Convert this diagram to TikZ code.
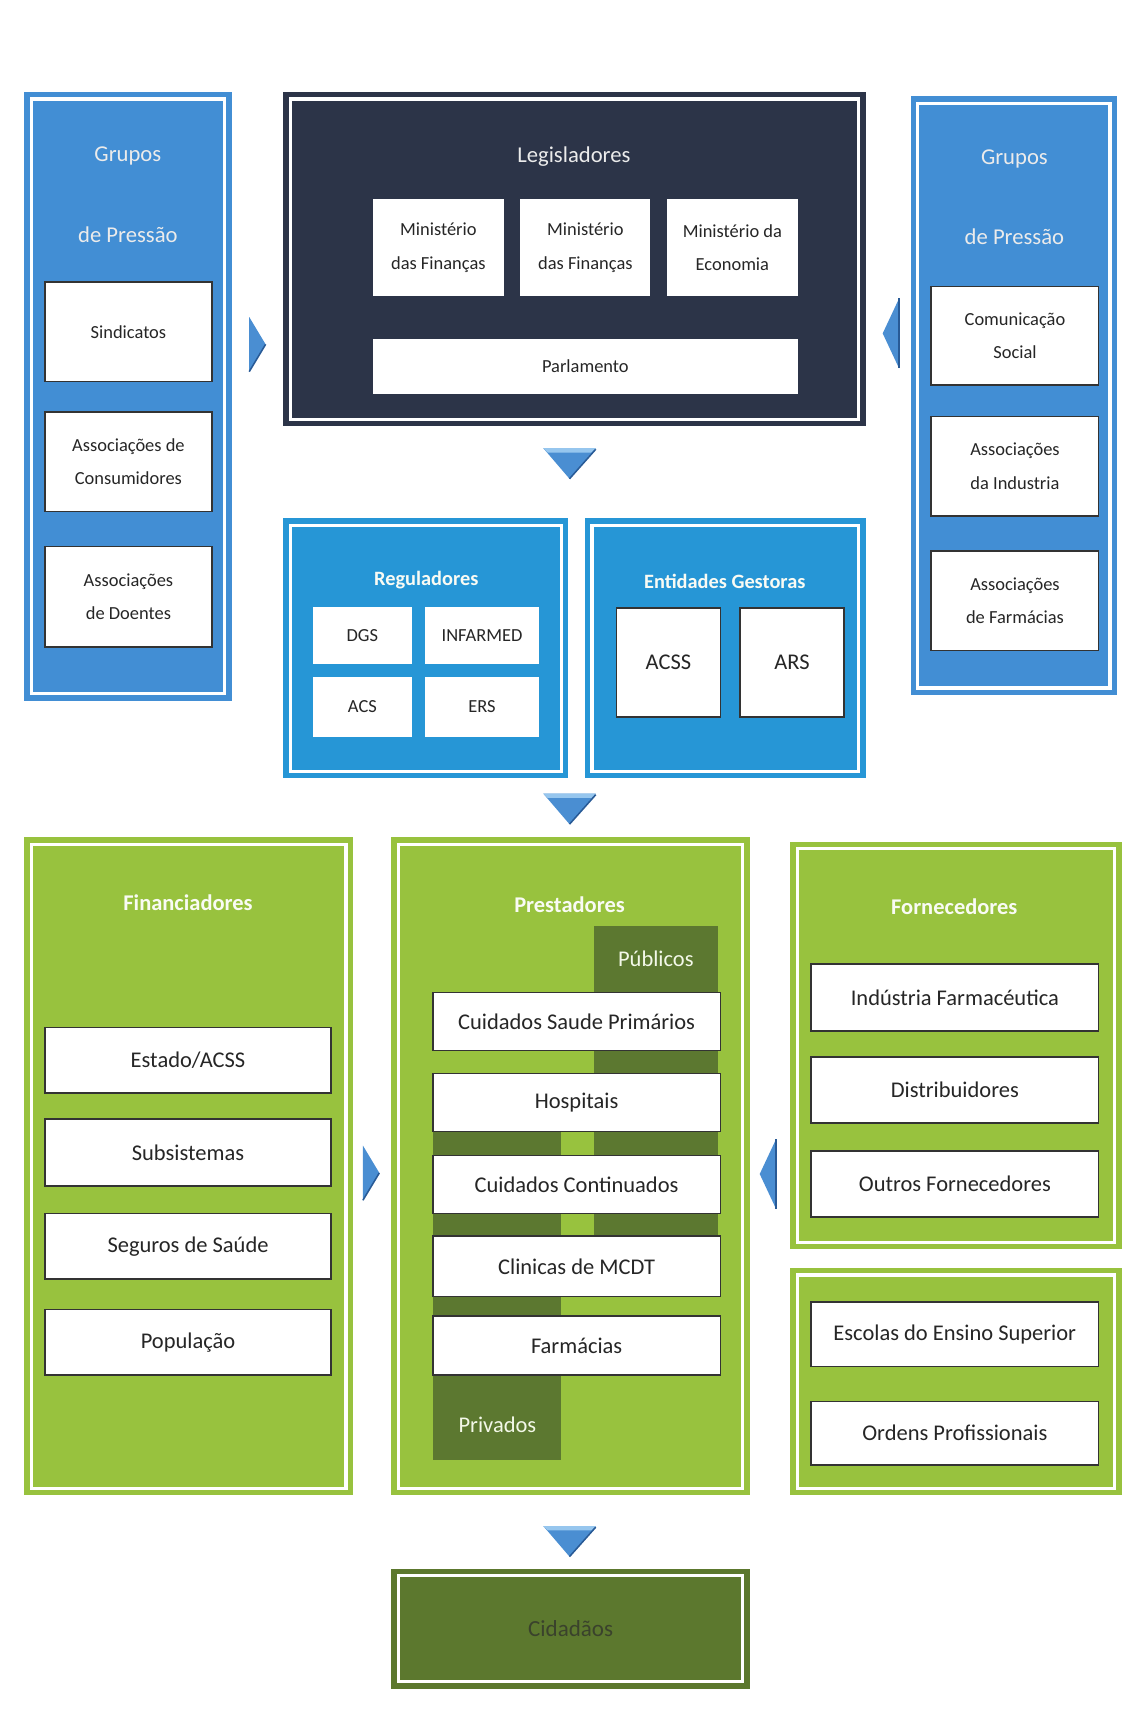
\documentclass[tikz,border=0pt]{standalone}
\usepackage{fontspec}
\setmainfont{Carlito}

\definecolor{grpblue}{RGB}{66,142,212}
\definecolor{regblue}{RGB}{38,150,214}
\definecolor{navy}{RGB}{44,52,72}
\definecolor{leaf}{RGB}{152,194,62}
\definecolor{moss}{RGB}{92,120,48}
\definecolor{citz}{RGB}{92,120,46}
\definecolor{citztxt}{RGB}{58,66,44}
\definecolor{tipblue}{RGB}{74,142,210}
\definecolor{tiplight}{RGB}{150,198,238}
\definecolor{tipdark}{RGB}{40,90,150}

\newcommand{\smallfnt}{\fontsize{9.6}{17.5}\selectfont}
\newcommand{\bigfnt}{\fontsize{11.7}{14}\selectfont}

\begin{document}
\begin{tikzpicture}[x=0.02cm, y=-0.02cm,
  sz/.style 2 args={minimum width=#1*0.02cm, minimum height=#2*0.02cm},
  gbox/.style={fill=#1, draw=white, line width=1.7pt, preaction={draw=#1, line width=7.4pt}, inner sep=0pt},
  ibox/.style={fill=white, draw=black!80, line width=0.9pt, inner sep=0pt, align=center, font=\smallfnt, text=black!85},
  iboxbig/.style={ibox, font=\bigfnt},
  ibare/.style={ibox, draw=none},
  hdr/.style={text=white!92!black, font=\fontsize{11.8}{14}\selectfont},
  hdrbold/.style={text=white!94!leaf, font=\bfseries\fontsize{11.7}{14}\selectfont},
  strip/.style={fill=moss, inner sep=0pt},
  dtip/.pic={
    \fill[tipblue] (-24,-14) -- (24,-14) -- (0,14) -- cycle;
    \fill[tiplight] (-24,-14) -- (24,-14) -- (20,-10) -- (-20,-10) -- cycle;
    \draw[tipdark, line width=0.8pt] (24,-13) -- (0,14);},
  rtip/.pic={
    \fill[tipblue] (-7.5,-25) -- (7.5,0) -- (-7.5,25) -- cycle;
    \draw[tipdark, line width=0.8pt] (7.5,0) -- (-7.5,25);},
  ltip/.pic={
    \fill[tipblue] (7.5,-32) -- (-7.5,0) -- (7.5,32) -- cycle;
    \draw[tipdark, line width=0.8pt] (7.5,-32) -- (7.5,32);}]
\useasboundingbox (0,0) rectangle (1042,1568);

% group frames
\node[gbox=grpblue, sz={177}{544}] (grpL) at (117,362.5) {};
\node[gbox=navy, sz={520}{293}] (leg) at (525.5,237) {};
\node[gbox=grpblue, sz={176}{535}] (grpR) at (927.5,362) {};
\node[gbox=regblue, sz={248}{225}] (reg) at (389.5,593) {};
\node[gbox=regblue, sz={244}{225}] (ent) at (663.5,593) {};
\node[gbox=leaf, sz={288}{589}] (fin) at (172.5,1067) {};
\node[gbox=leaf, sz={315}{589}] (prest) at (522,1067) {};
\node[gbox=leaf, sz={290}{360}] (forn) at (874.5,956.5) {};
\node[gbox=leaf, sz={290}{195}] (esc) at (874.5,1264) {};
\node[gbox=citz, sz={315}{97}, text=citztxt, font=\fontsize{12}{14}\selectfont] (cid) at (522,1490) {Cidadãos};

% titles
\node[hdr] (grpLa) at (117,143) {Grupos};
\node[hdr] (grpLb) at (117,215) {de Pressão};
\node[hdr] (grpRa) at (928,145) {Grupos};
\node[hdr] (grpRb) at (928,217) {de Pressão};
\node[hdr] (legT) at (525,143) {Legisladores};
\node[hdrbold, font=\bfseries\fontsize{10.6}{13}\selectfont] (regT) at (390,531) {Reguladores};
\node[hdrbold, font=\bfseries\fontsize{10.6}{13}\selectfont] (entT) at (663,532) {Entidades Gestoras};
\node[hdrbold] (finT) at (172,826) {Financiadores};
\node[hdrbold] (prestT) at (521,828) {Prestadores};
\node[hdrbold] (fornT) at (873,829) {Fornecedores};

% pressure groups
\node[ibox, sz={153}{91}] (sind) at (117.5,303.5) {Sindicatos};
\node[ibox, sz={153}{91}] (cons) at (117.5,422.5) {Associações de\\Consumidores};
\node[ibox, sz={153}{92}] (doen) at (117.5,546) {Associações\\de Doentes};
\node[ibox, sz={153}{90}] (comu) at (928.5,307) {Comunicação\\Social};
\node[ibox, sz={153}{91}] (indu) at (928.5,426.5) {Associações\\da Industria};
\node[ibox, sz={153}{91}] (farmA) at (928.5,549.5) {Associações\\de Farmácias};

% legislators
\node[ibare, sz={120}{89}] (minA) at (401,226.5) {Ministério\\das Finanças};
\node[ibare, sz={119}{89}] (minB) at (535.5,226.5) {Ministério\\das Finanças};
\node[ibare, sz={120}{89}] (minC) at (670,226.5) {Ministério da\\Economia};
\node[ibare, sz={389}{50}] (parl) at (535.5,335) {Parlamento};

% regulators and managing bodies
\node[ibare, sz={91}{52}] (dgs) at (331.5,581) {DGS};
\node[ibare, sz={104}{52}] (infa) at (441,581) {INFARMED};
\node[ibare, sz={91}{55}] (acs) at (331.5,646.5) {ACS};
\node[ibare, sz={104}{55}] (ers) at (441,646.5) {ERS};
\node[iboxbig, sz={95}{100}] (acss) at (611.5,606) {ACSS};
\node[iboxbig, sz={95}{100}] (ars) at (724.5,606) {ARS};

% funders
\node[iboxbig, sz={262}{60}] (esta) at (172,970) {Estado/ACSS};
\node[iboxbig, sz={262}{61}] (subs) at (172,1054.5) {Subsistemas};
\node[iboxbig, sz={262}{60}] (segu) at (172,1140) {Seguros de Saúde};
\node[iboxbig, sz={262}{60}] (popu) at (172,1228) {População};

% providers
\node[strip, sz={114}{303}] (pub) at (600,998.5) {};
\node[strip, sz={117}{326}] (priv) at (454.5,1173) {};
\node[text=white!88!leaf, font=\bigfnt] (pubT) at (600,877) {Públicos};
\node[text=white!88!leaf, font=\bigfnt] (privT) at (455,1303) {Privados};
\node[iboxbig, sz={263}{53}] (csp) at (527.5,934.5) {Cuidados Saude Primários};
\node[iboxbig, sz={263}{53}] (hosp) at (527.5,1008.5) {Hospitais};
\node[iboxbig, sz={263}{53}] (cont) at (527.5,1083.5) {Cuidados Continuados};
\node[iboxbig, sz={263}{55}] (mcdt) at (527.5,1158.5) {Clinicas de MCDT};
\node[iboxbig, sz={263}{54}] (farm) at (527.5,1231) {Farmácias};

% suppliers
\node[iboxbig, sz={263}{61}] (ifar) at (873.5,912.5) {Indústria Farmacéutica};
\node[iboxbig, sz={263}{60}] (dist) at (873.5,997) {Distribuidores};
\node[iboxbig, sz={263}{60}] (outr) at (873.5,1083) {Outros Fornecedores};
\node[iboxbig, sz={263}{59}] (ensi) at (873.5,1220.5) {Escolas do Ensino Superior};
\node[iboxbig, sz={263}{58}] (orde) at (873.5,1311) {Ordens Profissionais};

% flow tips
\pic (tipA) at (235.5,315) {rtip};
\pic (tipB) at (815,305) {ltip};
\pic (tipC) at (521,424) {dtip};
\pic (tipD) at (521,740) {dtip};
\pic (tipE) at (339.5,1073) {rtip};
\pic (tipF) at (702.5,1074) {ltip};
\pic (tipG) at (521,1410) {dtip};
\end{tikzpicture}
\end{document}
